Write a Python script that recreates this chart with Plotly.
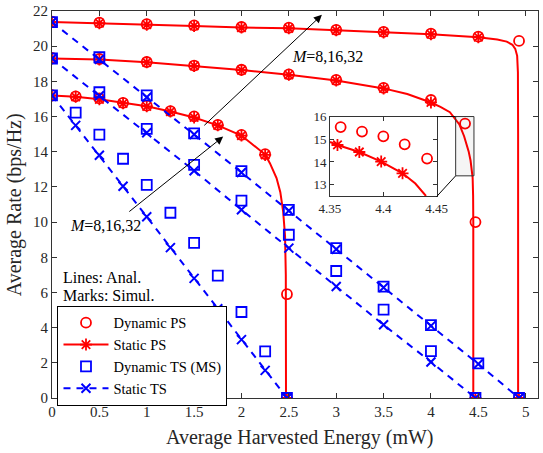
import plotly.graph_objects as go

# ---------------- data ----------------
# Power splitting, M = 8
ps8_x = [0, 0.25, 0.5, 0.75, 1, 1.25, 1.5, 1.75, 2, 2.25]
dyn_ps8_x = ps8_x + [2.48]
dyn_ps8_y = [17.22, 17.15, 17.03, 16.78, 16.62, 16.31, 16.01, 15.53, 14.96, 13.86, 5.9]
sta_ps8_x = ps8_x + [2.48]
sta_ps8_y = [17.2, 17.12, 16.98, 16.75, 16.58, 16.28, 15.95, 15.5, 14.92, 13.82, 0]
ana_ps8_x = [0, 0.25, 0.5, 0.75, 1, 1.25, 1.5, 1.75, 2, 2.25, 2.3, 2.37, 2.41, 2.44, 2.46, 2.468, 2.47]
ana_ps8_y = [17.2, 17.12, 16.98, 16.76, 16.58, 16.29, 15.95, 15.5, 14.92, 13.84, 13.35, 12.5, 11.7, 10.6, 9.2, 7.0, 0]

# Power splitting, M = 16
ps16_x = [0, 0.5, 1, 1.5, 2, 2.5, 3, 3.5, 4]
dyn_ps16_x = ps16_x + [4.36, 4.47]
dyn_ps16_y = [19.33, 19.27, 19.1, 18.9, 18.66, 18.4, 18.08, 17.63, 16.94, 15.6, 10.0]
sta_ps16_x = ps16_x + [4.47]
sta_ps16_y = [19.3, 19.25, 19.08, 18.88, 18.64, 18.37, 18.05, 17.6, 16.8, 0]
ana_ps16_x = [0, 0.5, 1, 1.5, 2, 2.5, 3, 3.5, 3.75, 4, 4.1, 4.2, 4.3, 4.35, 4.378, 4.398, 4.418, 4.44, 4.445, 4.447, 4.447]
ana_ps16_y = [19.3, 19.25, 19.08, 18.88, 18.64, 18.37, 18.05, 17.6, 17.28, 16.8, 16.55, 16.25, 15.55, 14.88, 14.44, 14.02, 13.5, 12.53, 11.5, 10.0, 0]

# Power splitting, M = 32
ps32_x = [0, 0.5, 1, 1.5, 2, 2.5, 3, 3.5, 4, 4.5]
dyn_ps32_x = ps32_x + [4.93]
dyn_ps32_y = [21.4, 21.34, 21.25, 21.18, 21.09, 21.05, 20.93, 20.81, 20.71, 20.54, 20.3]
sta_ps32_x = ps32_x + [4.93]
sta_ps32_y = [21.37, 21.31, 21.22, 21.15, 21.06, 21.02, 20.9, 20.78, 20.68, 20.51, 0]
ana_ps32_x = [0, 0.5, 1, 1.5, 2, 2.5, 3, 3.5, 4, 4.5, 4.7, 4.8, 4.86, 4.89, 4.91, 4.918, 4.92, 4.92]
ana_ps32_y = [21.37, 21.31, 21.22, 21.15, 21.06, 21.02, 20.9, 20.78, 20.68, 20.51, 20.38, 20.26, 20.08, 19.85, 19.45, 18.5, 15.0, 0]

# Time switching
ts8_x = [0, 0.25, 0.5, 0.75, 1, 1.25, 1.5, 1.75, 2, 2.25, 2.48]
dyn_ts8_y = [17.2, 16.22, 14.97, 13.6, 12.11, 10.53, 8.82, 6.96, 4.89, 2.65, 0]
sta_ts8_y = [17.2, 15.5, 13.8, 12.04, 10.3, 8.55, 6.8, 5.07, 3.32, 1.57, 0]
ts16_x = [0, 0.5, 1, 1.5, 2, 2.5, 3, 3.5, 4, 4.47]
dyn_ts16_y = [19.3, 17.38, 15.3, 13.25, 11.22, 9.28, 7.22, 5.02, 2.67, 0]
sta_ts16_y = [19.3, 17.18, 15.08, 12.92, 10.7, 8.52, 6.34, 4.16, 2.05, 0]
ts32_x = [0, 0.5, 1, 1.5, 2, 2.5, 3, 3.5, 4, 4.5, 4.93]
dyn_ts32_y = [21.37, 19.37, 17.2, 15.04, 12.9, 10.7, 8.52, 6.33, 4.14, 1.97, 0]
sta_ts32_y = [21.37, 19.25, 17.1, 14.98, 12.82, 10.64, 8.46, 6.28, 4.1, 1.93, 0]

# Inset (zoom of M = 16 PS curve)
ins_dyn_x = [4.360, 4.380, 4.400, 4.420, 4.441]
ins_dyn_y = [15.54, 15.34, 15.13, 14.78, 14.15]
ins_sta_x = [4.357, 4.3775, 4.398, 4.418]
ins_sta_y = [14.75, 14.44, 14.02, 13.50]
ins_ana_x = [4.35, 4.357, 4.3775, 4.398, 4.418, 4.43, 4.44]
ins_ana_y = [14.88, 14.75, 14.44, 14.02, 13.5, 13.05, 12.5]

x_ticks = [0, 0.5, 1, 1.5, 2, 2.5, 3, 3.5, 4, 4.5, 5]
x_tick_text = ["0", "0.5", "1", "1.5", "2", "2.5", "3", "3.5", "4", "4.5", "5"]
y_ticks = [0, 2, 4, 6, 8, 10, 12, 14, 16, 18, 20, 22]
ins_x_ticks = [4.35, 4.4, 4.45]
ins_x_text = ["4.35", "4.4", "4.45"]
ins_y_ticks = [13, 14, 15, 16]

legend_names = ["Dynamic PS", "Static PS", "Dynamic TS (MS)", "Static TS"]

# ---------------- styles ----------------
RED = "#FF0000"
BLUE = "#0000FF"
AX = "#333333"
FONT = "Liberation Serif, Times New Roman, serif"
circ = dict(symbol="circle-open", size=10, color=RED, line=dict(color=RED, width=1.8))
star = dict(symbol="asterisk-open", size=10, color=RED, line=dict(color=RED, width=1.8))
sqr = dict(symbol="square-open", size=10, color=BLUE, line=dict(color=BLUE, width=1.8))
xm = dict(symbol="x-thin-open", size=9, color=BLUE, line=dict(color=BLUE, width=2))
dash = "7px,6px"

fig = go.Figure()

# analytical PS lines
for ax_, ay_ in [(ana_ps8_x, ana_ps8_y), (ana_ps16_x, ana_ps16_y), (ana_ps32_x, ana_ps32_y)]:
    fig.add_trace(go.Scatter(x=ax_, y=ay_, mode="lines", line=dict(color=RED, width=2),
                             showlegend=False, hoverinfo="skip"))
# static PS markers
for sx, sy in [(sta_ps8_x, sta_ps8_y), (sta_ps16_x, sta_ps16_y), (sta_ps32_x, sta_ps32_y)]:
    fig.add_trace(go.Scatter(x=sx, y=sy, mode="markers", marker=star, showlegend=False))
# dynamic PS markers
for dx, dy in [(dyn_ps8_x, dyn_ps8_y), (dyn_ps16_x, dyn_ps16_y), (dyn_ps32_x, dyn_ps32_y)]:
    fig.add_trace(go.Scatter(x=dx, y=dy, mode="markers", marker=circ, showlegend=False))
# static TS (dashed lines + x)
for tx, ty in [(ts8_x, sta_ts8_y), (ts16_x, sta_ts16_y), (ts32_x, sta_ts32_y)]:
    fig.add_trace(go.Scatter(x=tx, y=ty, mode="lines+markers", marker=xm,
                             line=dict(color=BLUE, width=2, dash=dash), showlegend=False))
# dynamic TS squares
for tx, ty in [(ts8_x, dyn_ts8_y), (ts16_x, dyn_ts16_y), (ts32_x, dyn_ts32_y)]:
    fig.add_trace(go.Scatter(x=tx, y=ty, mode="markers", marker=sqr, showlegend=False))

# legend entries
fig.add_trace(go.Scatter(x=[None], y=[None], mode="markers", marker=circ, name=legend_names[0]))
fig.add_trace(go.Scatter(x=[None], y=[None], mode="lines+markers", marker=star,
                         line=dict(color=RED, width=2), name=legend_names[1]))
fig.add_trace(go.Scatter(x=[None], y=[None], mode="markers", marker=sqr, name=legend_names[2]))
fig.add_trace(go.Scatter(x=[None], y=[None], mode="lines+markers", marker=xm,
                         line=dict(color=BLUE, width=2, dash=dash), name=legend_names[3]))

# inset traces
fig.add_trace(go.Scatter(x=ins_ana_x, y=ins_ana_y, mode="lines", line=dict(color=RED, width=2),
                         xaxis="x2", yaxis="y2", showlegend=False))
fig.add_trace(go.Scatter(x=ins_sta_x, y=ins_sta_y, mode="markers", marker=star,
                         xaxis="x2", yaxis="y2", showlegend=False))
fig.add_trace(go.Scatter(x=ins_dyn_x, y=ins_dyn_y, mode="markers", marker=circ,
                         xaxis="x2", yaxis="y2", showlegend=False))

axis_common = dict(showline=True, linecolor=AX, linewidth=1, mirror="ticks", ticks="inside",
                   ticklen=5, tickcolor=AX, showgrid=False, zeroline=False, automargin=False,
                   tickfont=dict(family=FONT, size=15, color="#262626"))
inset_axis = dict(showline=True, linecolor=AX, linewidth=1, mirror="ticks", ticks="inside",
                  ticklen=4, tickcolor=AX, showgrid=False, zeroline=False, automargin=False,
                  tickfont=dict(family=FONT, size=13, color="#262626"))

ins_dom_x = [0.572, 0.7915]
ins_dom_y = [0.522, 0.727]

fig.update_layout(
    width=543, height=453, autosize=False,
    margin=dict(l=52, r=5, t=11, b=55, autoexpand=False),
    paper_bgcolor="white", plot_bgcolor="white",
    font=dict(family=FONT, color="#262626"),
    xaxis=dict(range=[0, 5.13], tickvals=x_ticks, ticktext=x_tick_text, **axis_common),
    yaxis=dict(range=[0, 22], tickvals=y_ticks, **axis_common),
    xaxis2=dict(domain=ins_dom_x, anchor="y2", range=[4.35, 4.45], tickvals=ins_x_ticks,
                ticktext=ins_x_text, **inset_axis),
    yaxis2=dict(domain=ins_dom_y, anchor="x2", range=[12.5, 16], tickvals=ins_y_ticks,
                **inset_axis),
    showlegend=True,
    legend=dict(x=0.0113, y=0.2383, xanchor="left", yanchor="top", bgcolor="white",
                bordercolor="#000000", borderwidth=1, itemwidth=45, tracegroupgap=0,
                font=dict(family=FONT, size=14.5, color="#000000")),
)

# inset background, zoom rectangle and connectors
fig.add_shape(type="rect", xref="paper", yref="paper", x0=ins_dom_x[0], x1=ins_dom_x[1],
              y0=ins_dom_y[0], y1=ins_dom_y[1], fillcolor="white", line=dict(width=0), layer="below")
fig.add_shape(type="rect", xref="x", yref="y", x0=4.261, x1=4.454, y0=12.63, y1=16.0,
              line=dict(color=AX, width=1), fillcolor="rgba(0,0,0,0.04)")
fig.add_shape(type="line", xref="x", yref="y", x0=4.06, y0=16.0, x1=4.261, y1=16.0,
              line=dict(color="black", width=1))
fig.add_shape(type="line", xref="x", yref="y", x0=4.06, y0=11.45, x1=4.261, y1=12.63,
              line=dict(color="black", width=1))

# arrows and labels
arrow = dict(showarrow=True, arrowhead=2, arrowsize=1.6, arrowwidth=1, arrowcolor="black",
             axref="x", ayref="y", xref="x", yref="y", text="")
fig.add_annotation(x=2.849, y=21.78, ax=1.592, ay=15.42, **arrow)
fig.add_annotation(x=1.807, y=14.86, ax=0.80, ay=10.53, **arrow)
lab = dict(showarrow=False, xref="x", yref="y", font=dict(family=FONT, size=16, color="black"))
fig.add_annotation(x=2.912, y=19.39, text="<i>M</i>=8,16,32", **lab)
fig.add_annotation(x=0.568, y=9.79, text="<i>M</i>=8,16,32", **lab)
fig.add_annotation(x=0.1, y=6.86, text="Lines: Anal.", xanchor="left", **lab)
fig.add_annotation(x=0.1, y=5.8, text="Marks: Simul.", xanchor="left", **lab)

# axis titles
fig.add_annotation(x=0.51, y=-0.1025, xref="paper", yref="paper", showarrow=False,
                   text="Average Harvested Energy (mW)", yanchor="middle",
                   font=dict(family=FONT, size=20, color="#262626"))
fig.add_annotation(x=-0.0766, y=0.5, xref="paper", yref="paper", showarrow=False,
                   text="Average Rate (bps/Hz)", textangle=-90, xanchor="center",
                   font=dict(family=FONT, size=20, color="#262626"))

# remove the default page margin and scrollbars so the 543x453 figure fills the window exactly
page_fix = ("document.documentElement.style.overflow='hidden';"
            "document.body.style.overflow='hidden';"
            "document.body.style.margin='0px';")
fig.write_html("out.html", config={"displayModeBar": False, "responsive": False},
               post_script=page_fix)
